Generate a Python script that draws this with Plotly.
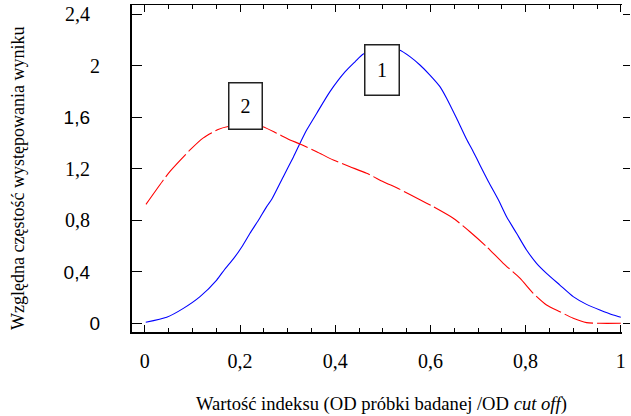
import plotly.graph_objects as go

# Series 1 (blue, solid)
x1 = [0.002, 0.046, 0.081, 0.116, 0.151, 0.168, 0.186, 0.204, 0.221, 0.239, 0.256, 0.267,
      0.291, 0.312, 0.326, 0.340, 0.361, 0.389, 0.421, 0.442, 0.459, 0.500, 0.535,
      0.557, 0.578, 0.599, 0.620, 0.634, 0.655, 0.676, 0.690, 0.704, 0.722, 0.743,
      0.760, 0.781, 0.802, 0.823, 0.844, 0.872, 0.900, 0.928, 0.956, 0.984, 1.000]
y1 = [0.008, 0.047, 0.116, 0.207, 0.336, 0.420, 0.500, 0.595, 0.699, 0.802, 0.906, 0.965,
      1.139, 1.290, 1.398, 1.501, 1.630, 1.799, 1.954, 2.032, 2.092, 2.135, 2.123,
      2.071, 2.006, 1.928, 1.838, 1.748, 1.592, 1.429, 1.333, 1.230, 1.100, 0.958,
      0.828, 0.699, 0.569, 0.466, 0.388, 0.297, 0.207, 0.147, 0.103, 0.064, 0.047]

# Series 2 (red, dashed)
x2 = [0.0025, 0.039, 0.053, 0.095, 0.123, 0.154, 0.175, 0.210, 0.248, 0.277, 0.305, 0.326,
      0.361, 0.396, 0.431, 0.466, 0.501, 0.536, 0.578, 0.606, 0.648, 0.683, 0.718, 0.753,
      0.788, 0.816, 0.844, 0.872, 0.900, 0.928, 0.956, 1.000]
y2 = [0.924, 1.113, 1.180, 1.346, 1.440, 1.505, 1.528, 1.545, 1.527, 1.476, 1.424, 1.393,
      1.333, 1.268, 1.216, 1.165, 1.100, 1.040, 0.960, 0.906, 0.816, 0.711, 0.595, 0.466,
      0.350, 0.233, 0.142, 0.090, 0.039, 0.005, 0.000, 0.000]

# Axis ticks
x_tickvals = [0, 0.2, 0.4, 0.6, 0.8, 1.0]
x_ticktext = ["0", "0,2", "0,4", "0,6", "0,8", "1"]
y_tickvals = [0, 0.4, 0.8, 1.2, 1.6, 2.0, 2.4]
y_ticktext = ["0", "0,4", "0,8", "1,2", "1,6", "2", "2,4"]
y_tick_sans = [True, True, False, False, True, False, False]

# Curve labels
label_text = ["1", "2"]
label_x = [0.498, 0.2115]
label_y = [1.97, 1.69]

SERIF = "Liberation Serif"
SANS = "Liberation Sans"

XR = [-0.0269, 1.0025]
YR = [-0.0676, 2.472]

L, R, T, B = 132, 9, 5, 84
W, H = 631, 416
PW, PH = W - L - R, H - T - B

def lab(t, fam, size, pad=""):
    return "<span style=\"font-family:'%s';font-size:%dpx\">%s</span>%s" % (fam, size, t, pad)

def ylab(t, sans):
    pad = "" if t in ("0", "2") else "\u00a0\u00a0"
    return lab(t, SANS if sans else SERIF, 19 if sans else 20, pad)

x_labels = [lab(t, SERIF, 20) for t in x_ticktext]

fig = go.Figure()
fig.add_trace(go.Scatter(x=x1, y=y1, mode="lines",
                         line=dict(color="#0000ff", width=1.1, shape="spline", smoothing=0.6),
                         showlegend=False, hoverinfo="skip"))
fig.add_trace(go.Scatter(x=x2, y=y2, mode="lines",
                         line=dict(color="#ff0000", width=1.1, dash="30px,4px", shape="spline", smoothing=0.6),
                         showlegend=False, hoverinfo="skip"))
fig.add_trace(go.Scatter(x=[], y=[], xaxis="x2", yaxis="y2", showlegend=False))

for t, lx, ly, w, h in zip(label_text, label_x, label_y, [33, 32], [49, 45]):
    fig.add_annotation(x=lx, y=ly, xref="x", yref="y", text=t, showarrow=False,
                       font=dict(family=SERIF, size=20, color="black"),
                       bgcolor="white", bordercolor="#222", borderwidth=1.5, borderpad=0,
                       width=w, height=h)

fig.add_annotation(x=(17.5 - L) / PW, y=(H - B - 178.5) / PH, xref="paper", yref="paper",
                   xanchor="center", yanchor="middle",
                   text="Względna częstość występowania wyniku",
                   textangle=-90, showarrow=False, font=dict(family=SERIF, size=18, color="black"))
fig.add_annotation(x=(381 - L) / PW, y=(H - B - 404) / PH, xref="paper", yref="paper",
                   xanchor="center", yanchor="middle",
                   text="Wartość indeksu (OD próbki badanej /OD <i>cut off</i>)",
                   showarrow=False, font=dict(family=SERIF, size=18.6, color="black"))

fig.update_layout(
    width=W, height=H,
    margin=dict(l=L, r=R, t=T, b=B, autoexpand=False),
    paper_bgcolor="white", plot_bgcolor="white",
    font=dict(family=SERIF, size=20, color="black"),
    xaxis=dict(range=XR, showgrid=False, zeroline=False, showline=True, linecolor="black", linewidth=2,
               automargin=False,
               tickmode="array", tickvals=x_tickvals, ticktext=x_labels,
               ticks="inside", ticklen=7, tickwidth=1.3, tickcolor="black",
               minor=dict(ticks="inside", ticklen=4, tickwidth=1, tickcolor="black", dtick=0.05, tick0=0),
               ticklabelstandoff=10, tickfont=dict(family=SERIF, size=20, color="black")),
    yaxis=dict(range=YR, showgrid=False, zeroline=False, showline=True, linecolor="black", linewidth=2,
               automargin=False,
               tickmode="array", tickvals=y_tickvals,
               ticktext=[ylab(t, s) for t, s in zip(y_ticktext, y_tick_sans)],
               ticks="inside", ticklen=10, tickwidth=1.3, tickcolor="black",
               ticklabelstandoff=26, tickfont=dict(family=SERIF, size=20, color="black")),
    xaxis2=dict(range=XR, overlaying="x", side="top", anchor="y", showgrid=False, zeroline=False,
                automargin=False,
                showline=True, linecolor="black", linewidth=1, showticklabels=False,
                tickmode="array", tickvals=x_tickvals,
                ticks="inside", ticklen=7, tickwidth=1.3, tickcolor="black",
                minor=dict(ticks="inside", ticklen=4, tickwidth=1, tickcolor="black", dtick=0.05, tick0=0)),
    yaxis2=dict(range=YR, overlaying="y", side="right", anchor="x", showgrid=False, zeroline=False,
                automargin=False,
                showline=False, showticklabels=False, tickmode="array", tickvals=y_tickvals,
                ticks="outside", ticklen=7, tickwidth=1.3, tickcolor="black"),
)

fig.write_html("out.html", config={"displayModeBar": False},
               post_script="document.body.style.margin='0';document.body.style.padding='0';")
